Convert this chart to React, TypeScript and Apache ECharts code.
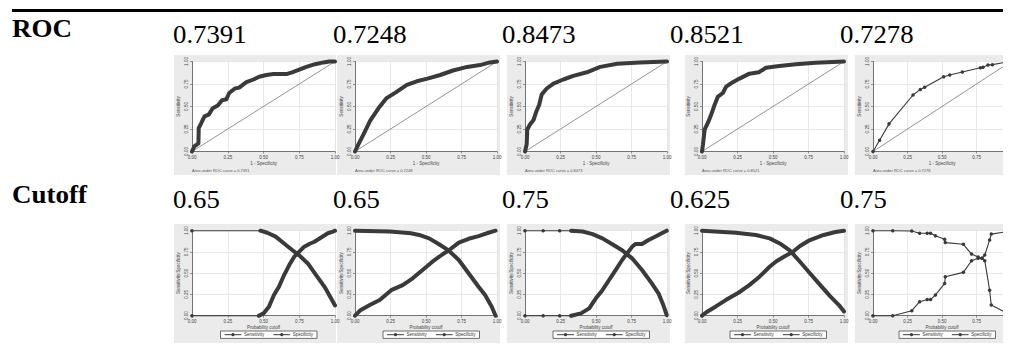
import React, { useEffect, useRef } from "react";
import * as echarts from "echarts";

const W = 1011;
const H = 347;

// ---------- data ----------
const rowLabels = ["ROC", "Cutoff"];
const aucValues = ["0.7391", "0.7248", "0.8473", "0.8521", "0.7278"];
const cutoffValues = ["0.65", "0.65", "0.75", "0.625", "0.75"];
const tickLabels = ["0.00", "0.25", "0.50", "0.75", "1.00"];
const legendNames = ["Sensitivity", "Specificity"];
const rocXTitle = "1 - Specificity";
const rocYTitle = "Sensitivity";
const cutXTitle = "Probability cutoff";
const cutYTitle = "Sensitivity/Specificity";

const diagonal = [[0, 0], [1, 1]];

const roc1 = [[0, 0], [0.016, 0.056], [0.045, 0.09], [0.047, 0.26], [0.063, 0.31], [0.087, 0.39], [0.117, 0.41], [0.145, 0.48], [0.18, 0.51], [0.21, 0.57], [0.24, 0.58], [0.26, 0.65], [0.30, 0.70], [0.33, 0.71], [0.38, 0.77], [0.43, 0.80], [0.47, 0.83], [0.52, 0.85], [0.57, 0.86], [0.66, 0.86], [0.70, 0.88], [0.75, 0.91], [0.80, 0.94], [0.86, 0.97], [0.92, 0.99], [0.96, 1.0], [1, 1]];
const roc2 = [[0, 0], [0.024, 0.08], [0.06, 0.19], [0.106, 0.34], [0.165, 0.48], [0.22, 0.59], [0.29, 0.66], [0.365, 0.74], [0.435, 0.78], [0.51, 0.81], [0.6, 0.85], [0.69, 0.90], [0.79, 0.94], [0.88, 0.96], [0.95, 0.99], [1, 1]];
const roc3 = [[0, 0], [0.012, 0.08], [0.016, 0.245], [0.035, 0.30], [0.06, 0.35], [0.08, 0.445], [0.10, 0.52], [0.118, 0.635], [0.153, 0.70], [0.2, 0.755], [0.27, 0.80], [0.34, 0.84], [0.435, 0.88], [0.53, 0.94], [0.65, 0.975], [0.81, 0.99], [1, 1]];
const roc4 = [[0, 0], [0.007, 0.08], [0.019, 0.245], [0.042, 0.32], [0.065, 0.41], [0.089, 0.52], [0.112, 0.61], [0.147, 0.65], [0.17, 0.72], [0.217, 0.77], [0.264, 0.81], [0.334, 0.865], [0.40, 0.88], [0.45, 0.93], [0.544, 0.95], [0.66, 0.97], [0.80, 0.985], [1, 1]];
const roc5 = [[0, 0], [0.048, 0.124], [0.116, 0.307], [0.29, 0.628], [0.343, 0.69], [0.374, 0.715], [0.512, 0.83], [0.556, 0.85], [0.647, 0.883], [0.778, 0.93], [0.797, 0.935], [0.833, 0.96], [0.865, 0.965], [0.98, 0.996], [1, 1]];

const cut1SensSparse = [[0, 1], [0.479, 1]];
const cut1Sens = [[0.479, 1], [0.526, 0.976], [0.585, 0.93], [0.644, 0.85], [0.703, 0.77], [0.75, 0.71], [0.81, 0.615], [0.868, 0.478], [0.927, 0.34], [0.974, 0.20], [1, 0.12]];
const cut1SpecSparse = [[0, 0], [0.467, 0]];
const cut1Spec = [[0.467, 0], [0.50, 0.027], [0.538, 0.106], [0.573, 0.243], [0.608, 0.34], [0.644, 0.478], [0.68, 0.596], [0.715, 0.694], [0.75, 0.753], [0.785, 0.812], [0.82, 0.843], [0.856, 0.87], [0.903, 0.92], [0.95, 0.97], [0.986, 0.99], [1, 1]];

const cut2Sens = [[0, 1], [0.244, 0.99], [0.394, 0.97], [0.452, 0.95], [0.522, 0.91], [0.592, 0.84], [0.661, 0.765], [0.731, 0.655], [0.80, 0.50], [0.87, 0.34], [0.916, 0.243], [0.963, 0.106], [0.99, 0]];
const cut2Spec = [[0, 0], [0.035, 0.06], [0.104, 0.125], [0.174, 0.184], [0.255, 0.30], [0.336, 0.36], [0.406, 0.44], [0.476, 0.537], [0.545, 0.635], [0.615, 0.72], [0.661, 0.77], [0.731, 0.86], [0.80, 0.905], [0.87, 0.937], [0.94, 0.976], [0.99, 1.0]];

const cut3SensSparse = [[0, 1], [0.128, 1], [0.244, 1], [0.325, 1]];
const cut3Sens = [[0.325, 1], [0.406, 0.99], [0.476, 0.96], [0.545, 0.91], [0.615, 0.84], [0.684, 0.77], [0.754, 0.675], [0.824, 0.537], [0.893, 0.38], [0.94, 0.263], [0.974, 0.125], [0.998, 0.008]];
const cut3SpecSparse = [[0, 0], [0.128, 0], [0.244, 0], [0.325, 0]];
const cut3Spec = [[0.325, 0], [0.394, 0.027], [0.452, 0.086], [0.499, 0.204], [0.545, 0.30], [0.592, 0.42], [0.638, 0.537], [0.684, 0.655], [0.719, 0.733], [0.754, 0.81], [0.777, 0.843], [0.824, 0.843], [0.87, 0.89], [0.916, 0.93], [0.963, 0.97], [0.998, 1]];

const cut4Sens = [[0, 1], [0.238, 0.976], [0.38, 0.95], [0.476, 0.91], [0.548, 0.85], [0.62, 0.765], [0.69, 0.635], [0.76, 0.50], [0.833, 0.36], [0.905, 0.224], [0.964, 0.125], [1, 0.05]];
const cut4Spec = [[0, 0], [0.036, 0.047], [0.095, 0.106], [0.167, 0.184], [0.257, 0.27], [0.333, 0.36], [0.405, 0.459], [0.476, 0.576], [0.524, 0.64], [0.583, 0.70], [0.638, 0.75], [0.69, 0.82], [0.76, 0.89], [0.857, 0.95], [0.94, 0.985], [1, 1]];

const cut5Sens = [[0, 1], [0.143, 1], [0.281, 0.996], [0.338, 0.97], [0.393, 0.97], [0.417, 0.97], [0.452, 0.94], [0.519, 0.90], [0.524, 0.86], [0.655, 0.84], [0.714, 0.725], [0.762, 0.69], [0.79, 0.675], [0.81, 0.647], [0.845, 0.30], [0.857, 0.125], [0.976, 0.027]];
const cut5Spec = [[0, 0], [0.143, 0], [0.281, 0.059], [0.338, 0.165], [0.393, 0.19], [0.417, 0.19], [0.452, 0.243], [0.519, 0.38], [0.524, 0.459], [0.655, 0.51], [0.714, 0.647], [0.762, 0.675], [0.79, 0.675], [0.81, 0.714], [0.845, 0.89], [0.857, 0.96], [0.976, 0.99]];

// ---------- layout ----------
const plotLeft = [192, 355, 525, 702, 873];
const plotRight = [335, 497, 667, 844, 1011];
const panelLeft = [174, 337, 507, 685, 855];
const panelRight = [336, 500, 670, 848, 1011];
const valueX = [173, 333, 502, 670, 840];
const rows = [
  { plotTop: 61.5, plotH: 90, panelTop: 55, panelBottom: 175, labelY: 28.7, valueY: 34.5, legendTop: 0 },
  { plotTop: 230.7, plotH: 85, panelTop: 224, panelBottom: 343, labelY: 194.7, valueY: 199, legendTop: 331 },
];

const INK = "#3a3a3a";
const SANS = "Liberation Sans";
const SERIF = "Liberation Serif";

function buildOption() {
  const grids: any[] = [];
  const xAxes: any[] = [];
  const yAxes: any[] = [];
  const series: any[] = [];
  const legends: any[] = [];
  const graphic: any[] = [];

  const axisBase = (gi: number, name: string, isY: boolean, lastCol: boolean) => ({
    type: "value",
    gridIndex: gi,
    min: 0,
    max: 1,
    interval: 0.25,
    name,
    nameLocation: "middle",
    nameGap: isY ? 11 : 9,
    nameTextStyle: { fontSize: 4.5, color: "#444", fontFamily: SANS },
    axisLine: { show: true, onZero: false, lineStyle: { color: "#555", width: 0.8 } },
    axisTick: { show: true, length: 2, lineStyle: { color: "#555", width: 0.6 } },
    axisLabel: {
      show: true,
      fontSize: 4.5,
      color: "#444",
      fontFamily: SANS,
      margin: 3,
      rotate: isY ? 90 : 0,
      showMinLabel: true,
      showMaxLabel: !(lastCol && !isY),
      formatter: (v: number) => tickLabels[Math.round(v * 4)],
    },
    splitLine: { show: true, lineStyle: { color: "#e2e2e2", width: 0.8 } },
  });

  const thick = (name: string | undefined, data: number[][], idx: number) => ({
    type: "line",
    name,
    data,
    xAxisIndex: idx,
    yAxisIndex: idx,
    symbol: "circle",
    showSymbol: false,
    clip: false,
    silent: true,
    z: 4,
    lineStyle: { color: INK, width: 4, cap: "round", join: "round" },
    itemStyle: { color: INK },
  });
  const thin = (name: string | undefined, data: number[][], idx: number) => ({
    type: "line",
    name,
    data,
    xAxisIndex: idx,
    yAxisIndex: idx,
    symbol: "circle",
    symbolSize: 3.5,
    showSymbol: true,
    showAllSymbol: true,
    clip: false,
    silent: true,
    z: 4,
    lineStyle: { color: INK, width: 1.1 },
    itemStyle: { color: INK },
  });

  // top rule + row labels
  graphic.push({ type: "rect", shape: { x: 12, y: 9, width: W - 12, height: 3 }, style: { fill: "#000" } });
  rows.forEach((r, ri) => {
    graphic.push({
      type: "text",
      x: 12,
      y: r.labelY,
      scaleX: 1.08,
      style: {
        text: rowLabels[ri],
        fontSize: 25,
        fontWeight: "bold",
        fontFamily: SERIF,
        fill: "#000",
        align: "left",
        verticalAlign: "middle",
        textAlign: "left",
        textVerticalAlign: "middle",
      },
    });
    const vals = ri === 0 ? aucValues : cutoffValues;
    vals.forEach((v, ci) => {
      graphic.push({
        type: "text",
        x: valueX[ci],
        y: r.valueY,
        scaleX: 1.03,
        style: {
          text: v,
          fontSize: 26,
          fontFamily: SERIF,
          fill: "#000",
          align: "left",
          verticalAlign: "middle",
          textAlign: "left",
          textVerticalAlign: "middle",
        },
      });
    });
    for (let ci = 0; ci < 5; ci++) {
      graphic.push({
        type: "rect",
        z: -1,
        shape: { x: panelLeft[ci], y: r.panelTop, width: panelRight[ci] - panelLeft[ci], height: r.panelBottom - r.panelTop },
        style: { fill: "#ebebeb" },
      });
    }
  });

  const rocData = [roc1, roc2, roc3, roc4, roc5];
  const cutData = [
    { sens: cut1Sens, spec: cut1Spec, sensSparse: cut1SensSparse, specSparse: cut1SpecSparse },
    { sens: cut2Sens, spec: cut2Spec, sensSparse: null, specSparse: null },
    { sens: cut3Sens, spec: cut3Spec, sensSparse: cut3SensSparse, specSparse: cut3SpecSparse },
    { sens: cut4Sens, spec: cut4Spec, sensSparse: null, specSparse: null },
    { sens: cut5Sens, spec: cut5Spec, sensSparse: null, specSparse: null, sparseAll: true },
  ];

  for (let ri = 0; ri < 2; ri++) {
    const r = rows[ri];
    for (let ci = 0; ci < 5; ci++) {
      const idx = ri * 5 + ci;
      grids.push({
        left: plotLeft[ci],
        top: r.plotTop,
        width: plotRight[ci] - plotLeft[ci],
        height: r.plotH,
        show: true,
        backgroundColor: "#fff",
        borderWidth: 0,
        containLabel: false,
      });
      xAxes.push(axisBase(idx, ri === 0 ? rocXTitle : cutXTitle, false, ci === 4));
      yAxes.push(axisBase(idx, ri === 0 ? rocYTitle : cutYTitle, true, ci === 4));

      if (ri === 0) {
        series.push({
          type: "line",
          data: diagonal,
          xAxisIndex: idx,
          yAxisIndex: idx,
          showSymbol: false,
          silent: true,
          z: 3,
          lineStyle: { color: "#777", width: 0.8 },
        });
        series.push(ci === 4 ? thin(undefined, rocData[ci], idx) : thick(undefined, rocData[ci], idx));
        graphic.push({
          type: "text",
          x: plotLeft[ci],
          y: 170,
          style: {
            text: "Area under ROC curve = " + aucValues[ci],
            fontSize: 4,
            fontFamily: SANS,
            fill: "#555",
            align: "left",
            verticalAlign: "middle",
            textAlign: "left",
            textVerticalAlign: "middle",
          },
        });
      } else {
        const d: any = cutData[ci];
        if (d.sparseAll) {
          series.push(thin(legendNames[0], d.sens, idx));
          series.push(thin(legendNames[1], d.spec, idx));
        } else {
          if (d.sensSparse) series.push(thin(undefined, d.sensSparse, idx));
          if (d.specSparse) series.push(thin(undefined, d.specSparse, idx));
          series.push(thick(legendNames[0], d.sens, idx));
          series.push(thick(legendNames[1], d.spec, idx));
        }
        const cx = (plotLeft[ci] + plotRight[ci]) / 2;
        legends.push({
          data: legendNames,
          left: Math.min(cx, 948) - 43,
          top: r.legendTop,
          orient: "horizontal",
          itemWidth: 16,
          itemHeight: 4,
          itemGap: 9,
          padding: [1.2, 4],
          borderColor: "#333",
          borderWidth: 0.7,
          backgroundColor: "#fff",
          selectedMode: false,
          textStyle: { fontSize: 4.5, color: "#333", fontFamily: SANS, padding: [0, 0, 0, -2] },
          lineStyle: { width: 1, color: INK },
          itemStyle: { color: INK },
        });
      }
    }
  }

  return {
    animation: false,
    backgroundColor: "#fff",
    tooltip: { show: false },
    grid: grids,
    xAxis: xAxes,
    yAxis: yAxes,
    legend: legends,
    series,
    graphic,
  };
}

export default function App() {
  const ref = useRef<HTMLDivElement>(null);
  useEffect(() => {
    const el = ref.current;
    if (!el) return;
    // pin the chart to the top-left corner of the viewport
    const rect = el.getBoundingClientRect();
    el.style.transform = `translate(${-rect.left}px, ${-rect.top}px)`;
    const chart = echarts.init(el, null, { renderer: "svg", width: W, height: H });
    chart.setOption(buildOption() as any);
    return () => chart.dispose();
  }, []);
  return <div ref={ref} style={{ width: W, height: H, background: "#fff" }} />;
}
